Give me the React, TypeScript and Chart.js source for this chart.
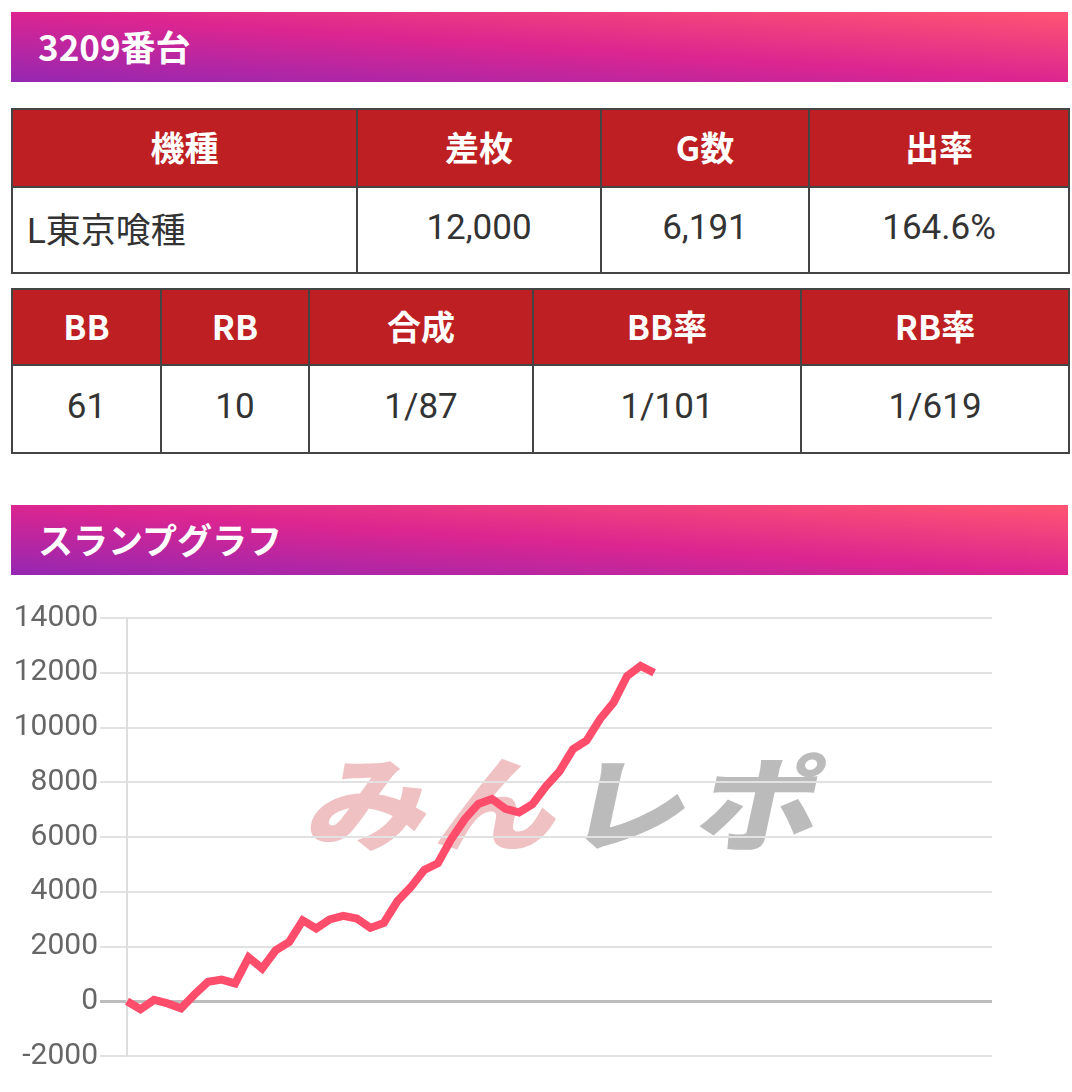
import React, { useEffect, useRef } from "react";
import { Chart, registerables } from "chart.js";

Chart.register(...registerables);

const machineHeaders = ["機種", "差枚", "G数", "出率"];
const machineValues = ["L東京喰種", "12,000", "6,191", "164.6%"];
const bonusHeaders = ["BB", "RB", "合成", "BB率", "RB率"];
const bonusValues = ["61", "10", "1/87", "1/101", "1/619"];

const slumpValues = [
  0, -290, 50, -80, -260, 250, 710, 790, 650, 1600,
  1200, 1860, 2165, 2955, 2660, 2990, 3120, 3020, 2680, 2860,
  3650, 4170, 4800, 5040, 5930, 6660, 7210, 7390, 7030, 6900,
  7200, 7850, 8400, 9210, 9520, 10310, 10910, 11880, 12250, 12000,
];
const slotLabels = Array.from({ length: 65 }, (_, i) => String(i + 1));
const yMin = -2000;
const yMax = 14000;
const yStep = 2000;

const CJK = '"Noto Sans CJK JP", "Noto Sans", sans-serif';
const BODY = 'Roboto, "Noto Sans CJK JP", sans-serif';

const bandStyle = (top: number): React.CSSProperties => ({
  position: "absolute",
  left: 11,
  top,
  width: 1057,
  height: 70,
  background: "linear-gradient(to top right, #9527b2 0%, #dc2590 50%, #ff5572 100%)",
  color: "#fff",
  fontFamily: CJK,
  fontWeight: 700,
  fontSize: 35,
  lineHeight: "68px",
  paddingLeft: 27,
  boxSizing: "border-box",
});

function InfoTable(props: {
  top: number;
  widths: number[];
  headers: string[];
  values: string[];
  headH: number;
  bodyH: number;
  firstLeft?: boolean;
}) {
  const { top, widths, headers, values, headH, bodyH, firstLeft } = props;
  return (
    <table
      style={{
        position: "absolute",
        left: 11,
        top,
        width: 1057,
        borderCollapse: "collapse",
        tableLayout: "fixed",
        border: "2px solid #444",
      }}
    >
      <colgroup>
        {widths.map((w, i) => (
          <col key={i} style={{ width: w }} />
        ))}
      </colgroup>
      <tbody>
        <tr style={{ height: headH }}>
          {headers.map((h, i) => (
            <th
              key={i}
              style={{
                background: "#bd1f22",
                color: "#fff",
                fontFamily: CJK,
                fontWeight: 700,
                fontSize: 34,
                border: "2px solid #444",
                padding: "0 0 4px 0",
                textAlign: "center",
              }}
            >
              {h}
            </th>
          ))}
        </tr>
        <tr style={{ height: bodyH }}>
          {values.map((v, i) => (
            <td
              key={i}
              style={{
                background: "#fff",
                color: "#333",
                fontFamily: BODY,
                fontSize: 35,
                border: "2px solid #444",
                padding: firstLeft && i === 0 ? "0 0 6px 14px" : "0 0 6px 0",
                textAlign: firstLeft && i === 0 ? "left" : "center",
              }}
            >
              {v}
            </td>
          ))}
        </tr>
      </tbody>
    </table>
  );
}

export default function App() {
  const canvasRef = useRef<HTMLCanvasElement | null>(null);

  useEffect(() => {
    document.body.style.margin = "0";
    const canvas = canvasRef.current;
    if (!canvas) return;
    const chart = new Chart(canvas, {
      type: "line",
      data: {
        labels: slotLabels,
        datasets: [
          {
            data: slumpValues,
            borderColor: "#ff4d6b",
            borderWidth: 8,
            pointRadius: 0,
            pointHoverRadius: 0,
            tension: 0,
            fill: false,
          },
        ],
      },
      options: {
        animation: false,
        responsive: false,
        maintainAspectRatio: false,
        layout: { padding: { left: 0, right: 80, top: 0, bottom: 0 } },
        plugins: {
          legend: { display: false },
          tooltip: { enabled: false },
          title: { display: false },
        },
        scales: {
          x: {
            display: false,
            offset: false,
          },
          y: {
            min: yMin,
            max: yMax,
            afterFit: (scale: any) => {
              scale.width = 127;
            },
            ticks: {
              stepSize: yStep,
              color: "#666",
              padding: 2,
              font: { family: "Roboto", size: 30 },
              callback: (value: any) => String(value),
            },
            grid: {
              tickLength: 27,
              color: (ctx: any) => (ctx.tick && ctx.tick.value === 0 ? "#bdbdbd" : "#e2e2e2"),
              lineWidth: (ctx: any) => (ctx.tick && ctx.tick.value === 0 ? 3 : 2),
            },
            border: { display: true, color: "#dedede", width: 2 },
          },
        },
      },
    });
    return () => chart.destroy();
  }, []);

  return (
    <div style={{ position: "relative", width: 1072, height: 1092, overflow: "hidden", background: "#fff" }}>
      <div style={bandStyle(12)}>3209番台</div>
      <InfoTable
        top={108}
        widths={[345, 244, 208, 260]}
        headers={machineHeaders}
        values={machineValues}
        headH={78}
        bodyH={86}
        firstLeft
      />
      <InfoTable
        top={288}
        widths={[149, 148, 224, 268, 268]}
        headers={bonusHeaders}
        values={bonusValues}
        headH={76}
        bodyH={88}
      />
      <div style={bandStyle(505)}>スランプグラフ</div>
      <div
        style={{
          position: "absolute",
          left: 312,
          top: 728,
          fontFamily: CJK,
          fontWeight: 900,
          fontSize: 122,
          lineHeight: "140px",
          letterSpacing: 8,
          transform: "skewX(-12deg) scaleY(0.85)",
          transformOrigin: "left center",
          whiteSpace: "nowrap",
        }}
      >
        <span style={{ color: "rgba(214, 100, 104, 0.4)" }}>みん</span>
        <span style={{ color: "rgba(150, 150, 150, 0.65)" }}>レポ</span>
      </div>
      <canvas
        ref={canvasRef}
        width={1072}
        height={478}
        style={{ position: "absolute", left: 0, top: 598, width: 1072, height: 478 }}
      />
    </div>
  );
}
